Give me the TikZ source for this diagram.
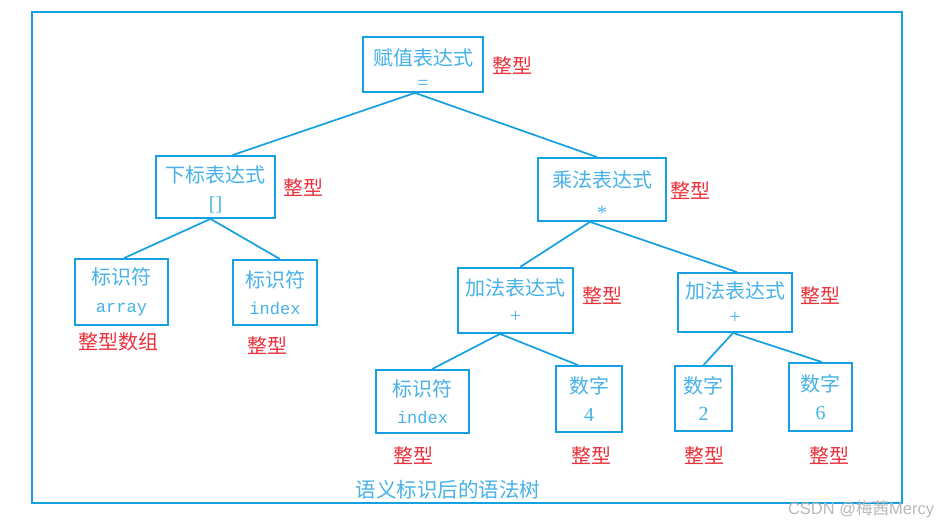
\documentclass[tikz,border=0pt]{standalone}
\usepackage{fontspec}
\setmainfont{Noto Sans CJK SC}
\newfontfamily\cjk{Noto Sans CJK SC}
\newfontfamily\monof{Liberation Mono}
\newfontfamily\serf{Liberation Serif}
\newfontfamily\wmf{Liberation Sans}
\definecolor{boxblue}{RGB}{20,160,225}
\definecolor{txtblue}{RGB}{70,178,232}
\definecolor{lblred}{RGB}{235,50,60}
\definecolor{wmgray}{RGB}{185,185,185}
\tikzset{
  tbox/.style={draw=boxblue, line width=1.8pt, rectangle, inner sep=0pt, align=center,
    text=txtblue, font=\cjk\fontsize{20}{27.5}\selectfont},
  edge/.style={draw=boxblue, line width=1.7pt},
  typelbl/.style={text=lblred, inner sep=0pt, font=\cjk\fontsize{20}{22}\selectfont},
  caplbl/.style={text=txtblue, inner sep=0pt, font=\cjk\fontsize{20.5}{22}\selectfont},
}
\newcommand{\mt}[1]{{\monof\fontsize{17}{20}\selectfont #1}}
\newcommand{\st}[1]{{\serf\fontsize{20}{20}\selectfont #1}}
\newcommand{\lift}[1]{\rule{0pt}{#1}}
\begin{document}
\begin{tikzpicture}[x=1pt,y=-1pt]
\useasboundingbox (0,0) rectangle (939,524);
\fill[white] (0,0) rectangle (939,524);
\draw[boxblue, line width=1.6pt] (32,12) rectangle (902,503);

\node[tbox, minimum width=120pt, minimum height=55pt] (top) at (423,64.5) {\lift{26pt}赋值表达式\\[-4pt]\st{=}};
\node[tbox, minimum width=119pt, minimum height=62pt] (xb) at (215.5,187) {\lift{22pt}下标表达式\\[1pt]\st{[]}};
\node[tbox, minimum width=128pt, minimum height=63pt] (cf) at (602,189.5) {\lift{28pt}乘法表达式\\[4pt]\st{*}};
\node[tbox, minimum width=93pt, minimum height=66pt] (arr) at (121.5,292) {标识符\\\mt{array}};
\node[tbox, minimum width=84pt, minimum height=65pt] (idxa) at (275,292.5) {标识符\\\mt{index}};
\node[tbox, minimum width=115pt, minimum height=65pt] (addl) at (515.5,300.5) {加法表达式\\\st{+}};
\node[tbox, minimum width=114pt, minimum height=59pt] (addr) at (735,302.5) {加法表达式\\[-2pt]\st{+}};
\node[tbox, minimum width=93pt, minimum height=63pt] (idxb) at (422.5,401.5) {标识符\\\mt{index}};
\node[tbox, minimum width=66pt, minimum height=66pt] (nfour) at (589,399) {数字\\\st{4}};
\node[tbox, minimum width=57pt, minimum height=65pt] (ntwo) at (703.5,398.5) {数字\\\st{2}};
\node[tbox, minimum width=63pt, minimum height=68pt] (nsix) at (820.5,397) {数字\\\st{6}};

\draw[edge] ([xshift=-8pt]top.south) -- ([xshift=17pt]xb.north);
\draw[edge] ([xshift=-8pt]top.south) -- ([xshift=-5pt]cf.north);
\draw[edge] ([xshift=-5pt]xb.south) -- ([xshift=2.5pt]arr.north);
\draw[edge] ([xshift=-5pt]xb.south) -- ([xshift=5pt]idxa.north);
\draw[edge] ([xshift=-12pt]cf.south) -- ([xshift=4.5pt]addl.north);
\draw[edge] ([xshift=-12pt]cf.south) -- ([xshift=2pt]addr.north);
\draw[edge] ([xshift=-15.5pt]addl.south) -- ([xshift=9.5pt]idxb.north);
\draw[edge] ([xshift=-15.5pt]addl.south) -- ([xshift=-11pt]nfour.north);
\draw[edge] ([xshift=-2pt]addr.south) -- (ntwo.north);
\draw[edge] ([xshift=-2pt]addr.south) -- ([xshift=1.5pt]nsix.north);

\node[typelbl] (ltop) at (512,66) {整型};
\node[typelbl] (lxb) at (303,188) {整型};
\node[typelbl] (lcf) at (690,191) {整型};
\node[typelbl] (larr) at (118,342) {整型数组};
\node[typelbl] (lidxa) at (267,346) {整型};
\node[typelbl] (laddl) at (602,296) {整型};
\node[typelbl] (laddr) at (820,296) {整型};
\node[typelbl] (lidxb) at (413,456) {整型};
\node[typelbl] (lfour) at (591,456) {整型};
\node[typelbl] (ltwo) at (704,456) {整型};
\node[typelbl] (lsix) at (829,456) {整型};

\node[caplbl] (cap) at (448,490) {语义标识后的语法树};
\node[text=wmgray, inner sep=0pt, font=\cjk\fontsize{16.5}{18}\selectfont] (wm) at (861,509) {{\wmf CSDN @}梅茜{\wmf Mercy}};
\end{tikzpicture}
\end{document}
